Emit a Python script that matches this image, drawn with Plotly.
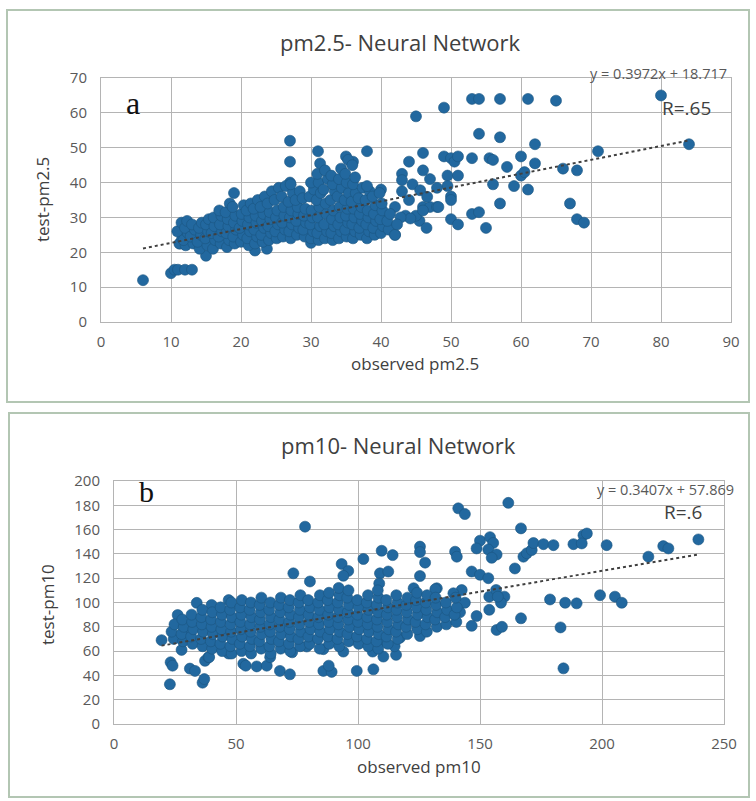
import plotly.graph_objects as go

W, H = 756, 801

# ---------------- data: panel a (pm2.5) ----------------
pm25_obs = [
    6, 10, 10.5, 11, 12, 13, 11.3, 15, 19, 27, 27, 27, 22, 23.7, 30, 31, 35, 36, 38, 40,
    42, 43, 44, 45, 46, 49, 53, 54, 57, 61, 65, 80, 84, 71, 62, 54, 57, 53, 55.5, 56,
    58, 60, 62, 60, 60.5, 59, 61, 66, 68, 67, 68, 69, 57, 56, 53, 54, 55, 50, 51, 49,
    50, 50.5, 51, 49.5, 51, 49.5, 50, 50, 46, 48, 44.5, 43, 46, 47, 48, 45.5, 46.5, 43.5, 45, 40,
    47, 45.6, 46.6, 46, 44.2, 42.8, 43, 41.5, 42, 44, 48.2,
    11.2, 11.6, 10.9, 11.5,
    12.1, 11.8, 12.4, 12.0, 12.3,
    13.2, 12.8, 13.4, 13.0,
    14.1, 13.8, 14.3, 14.0, 14.4,
    15.2, 14.9, 15.3, 15.0, 15.4,
    16.0, 16.3, 15.8, 16.2, 16.1,
    17.1, 16.8, 17.3, 17.0, 17.2, 16.9,
    18.0, 18.3, 17.9, 18.2, 18.1, 17.8, 18.4,
    19.1, 18.9, 19.3, 19.0, 19.2, 18.8,
    20.0, 20.3, 19.8, 20.2, 20.1, 20.4,
    21.1, 20.9, 21.3, 21.0, 21.2, 20.8, 21.4,
    22.0, 22.3, 21.9, 22.2, 22.1, 21.8, 22.4,
    23.1, 22.9, 23.3, 23.0, 23.2, 22.8, 23.4,
    24.0, 24.3, 23.9, 24.2, 24.1, 23.8, 24.4,
    25.1, 24.9, 25.3, 25.0, 25.2, 24.8, 25.4,
    26.0, 26.3, 25.9, 26.2, 26.1, 25.8, 26.4,
    27.1, 26.9, 27.3, 27.0, 27.2, 26.8, 27.4, 27.1,
    28.0, 28.3, 27.9, 28.2, 28.1, 27.8, 28.4,
    29.1, 28.9, 29.3, 29.0, 29.2, 28.8,
    30.0, 30.3, 29.9, 30.2, 30.1, 29.8, 30.4, 30.0,
    31.1, 30.9, 31.3, 31.0, 31.2, 30.8, 31.4, 31.1, 30.9, 31.3,
    32.0, 32.3, 31.9, 32.2, 32.1, 31.8, 32.4, 32.0,
    33.1, 32.9, 33.3, 33.0, 33.2, 32.8, 33.4, 33.1, 32.9,
    34.0, 34.3, 33.9, 34.2, 34.1, 33.8, 34.4, 34.0, 34.3,
    35.1, 34.9, 35.3, 35.0, 35.2, 34.8, 35.4, 35.1, 34.9, 35.3,
    36.0, 36.3, 35.9, 36.2, 36.1, 35.8, 36.4, 36.0, 36.3, 35.9,
    37.1, 36.9, 37.3, 37.0, 37.2, 36.8, 37.4,
    38.0, 38.3, 37.9, 38.2, 38.1, 37.8, 38.4, 38.0,
    39.1, 38.9, 39.3, 39.0, 39.2, 38.8,
    40.0, 40.3, 39.9, 40.2, 40.1, 39.8,
    41.1, 40.9, 41.3,
    42.0, 42.3,
]
pm25_test = [
    12, 14, 15, 15, 15, 15, 22.5, 19, 37, 52, 46, 40, 20.5, 21, 22.7, 49, 47.5, 46, 49, 38,
    25, 42.5, 46, 59, 48.5, 61.5, 64, 64, 64, 64, 63.5, 65, 51, 49, 51, 54, 53, 47, 47, 46.5,
    44.5, 47.5, 45.5, 42, 43, 39, 38, 44, 43.5, 34, 29.5, 28.5, 34, 39.5, 31, 31.5, 27, 29.5, 28, 47.5,
    47, 46, 47.5, 42, 42, 39, 36, 35, 43.5, 38.5, 39.5, 37.5, 33, 33, 33, 29, 27, 30.5, 30.5, 31.5,
    41, 37.8, 35.9, 32, 29.7, 30, 40.7, 27, 33, 35, 33,
    22.5, 24, 26, 28.5,
    22, 23.5, 25.5, 27, 29,
    22.5, 24.5, 26.5, 28,
    21, 23, 25, 27, 28.5,
    22, 24, 26, 28, 29.5,
    21, 23.5, 25.5, 27.5, 30,
    22.5, 24.5, 26, 28, 30.5, 32,
    21.5, 23.5, 25.5, 27.5, 29.5, 31.5, 34,
    22.5, 24.5, 26.5, 28.5, 30.5, 33,
    23, 25, 27, 29, 31, 33.5,
    22, 24, 26, 28, 30, 32, 34,
    22.5, 24.5, 26.5, 28.5, 30.5, 32.5, 35,
    23, 25, 27, 29, 31, 33, 36,
    23.5, 25.5, 27.5, 29.5, 31.5, 34, 37.5,
    24, 26, 28, 30, 32, 35, 38.5,
    24.5, 26.5, 28.5, 30.5, 33, 36, 39,
    24, 26, 28, 30, 32, 34.5, 37, 39.5,
    25, 27, 29, 31, 33, 35, 37.5,
    24.5, 26.5, 28.5, 30.5, 32.5, 35.5,
    24, 26, 28, 30, 32, 36, 38, 40,
    23.5, 25.5, 27.5, 30, 33, 35, 37, 40, 42.5, 45.5,
    24, 26, 28, 31, 34, 38, 41, 43.5,
    23.5, 25.5, 27.5, 29.5, 32, 35, 37.5, 39.5, 42,
    24, 26, 28, 30, 33, 36, 38.5, 41, 44,
    24.5, 26.5, 28.5, 30.5, 32.5, 35, 37, 40, 42.5, 46.5,
    24, 26, 28, 30, 32.5, 34.5, 37, 39.5, 41.5, 45,
    25, 27, 29, 31, 33, 35.5, 38.5,
    24, 26, 28, 30, 32, 35, 37.5, 39,
    25, 27, 29, 31, 33.5, 36,
    25.5, 27.5, 29.5, 32, 34, 37,
    26.5, 29, 31,
    25, 28,
]
pm25_fit_slope, pm25_fit_intercept = 0.3972, 18.717

# ---------------- data: panel b (pm10) ----------------
pm10_obs = [
    19.5, 23.2, 24, 22.9, 26.1, 27.7, 31.1, 33.2, 33.9, 36.3,
    37, 37.3, 38.7, 40, 47, 53, 54, 58.5, 62.6, 68,
    72.1, 78.3, 73.5, 80.3, 85.8, 89.2, 99.5, 106.3, 93.3, 96,
    94, 102.2, 109.7, 114.2, 109, 112.4, 108.7, 94, 106, 110.4,
    115.6, 115, 141.1, 143.8, 161.6, 166.8, 125.4, 125.4, 127.5, 125.4,
    139.8, 140.5, 150, 154.1, 155.4, 153.4, 156.8, 154.8, 148.6, 146.6,
    150, 153.4, 164.3, 167.8, 169.2, 171.2, 171.9, 176, 180.1, 188.3,
    192.4, 193.8, 191.7, 201.9, 219, 225.1, 227.2, 239.5, 178.7, 184.9,
    189.6, 199.2, 205.3, 208.1, 183, 184.2, 166.8, 160, 158.6, 153.8,
    156.6, 157.3, 156.8, 159, 153.8, 146.6, 148.6, 143.8, 141.8, 142.5,
    139.1, 132.3, 122.8, 125.4, 117.2, 131.7, 28.4, 79, 85.8, 73,
    96.7, 110.4, 88, 64, 47, 39,
    24.5, 23.6, 24.8,
    28.3, 27.7, 28.6, 28.0,
    32.2, 31.6, 32.5, 32.0, 31.8,
    36.3, 35.7, 36.5, 36.0, 35.8, 36.2,
    40.2, 39.7, 40.5, 40.0, 39.8, 40.3,
    44.3, 43.6, 44.5, 44.0, 43.8, 44.2, 43.7,
    48.2, 47.7, 48.5, 48.0, 47.8, 48.3, 47.6, 48.1,
    52.3, 51.6, 52.5, 52.0, 51.8, 52.2, 51.7, 52.4,
    56.2, 55.7, 56.5, 56.0, 55.8, 56.3, 55.6, 56.1,
    60.3, 59.6, 60.5, 60.0, 59.8, 60.2, 59.7, 60.4,
    64.2, 63.7, 64.5, 64.0, 63.8, 64.3, 63.6, 64.1,
    68.3, 67.6, 68.5, 68.0, 67.8, 68.2, 67.7, 68.4,
    72.2, 71.7, 72.5, 72.0, 71.8, 72.3, 71.6, 72.1,
    76.3, 75.6, 76.5, 76.0, 75.8, 76.2, 75.7, 76.4,
    80.2, 79.7, 80.5, 80.0, 79.8, 80.3, 79.6,
    84.3, 83.6, 84.5, 84.0, 83.8, 84.2, 83.7, 84.4,
    88.2, 87.7, 88.5, 88.0, 87.8, 88.3, 87.6, 88.1,
    92.3, 91.6, 92.5, 92.0, 91.8, 92.2, 91.7, 92.4, 92.1,
    96.2, 95.7, 96.5, 96.0, 95.8, 96.3, 95.6, 96.1,
    100.3, 99.6, 100.5, 100.0, 99.8, 100.2, 99.7,
    104.2, 103.7, 104.5, 104.0, 103.8, 104.3, 103.6, 104.1,
    108.3, 107.6, 108.5, 108.0, 107.8, 108.2, 107.7, 108.4, 108.1,
    112.2, 111.7, 112.5, 112.0, 111.8, 112.3, 111.6,
    116.3, 115.6, 116.5, 116.0, 115.8, 116.2, 115.7,
    120.2, 119.7, 120.5, 120.0, 119.8, 120.3,
    124.3, 123.6, 124.5, 124.0, 123.8, 124.2,
    128.2, 127.7, 128.5, 128.0, 127.8, 128.3,
    132.3, 131.6, 132.5, 132.0, 131.8,
    136.2, 135.7, 136.5, 136.0,
    140.3, 139.6, 140.5, 140.0,
]
pm10_test = [
    69, 50.8, 48, 32.7, 89.7, 61, 45.6, 43.7, 99.7, 34,
    37, 52, 55, 98, 102, 49.6, 48, 47.4, 48, 43.7,
    40.9, 162.4, 124, 117.3, 43.7, 42.9, 43.7, 45, 131.7, 126,
    122, 135.8, 142.6, 139, 124, 125.5, 115.7, 59.6, 59.6, 55.5,
    56.9, 64, 177.5, 172.8, 182, 161, 146, 141.5, 132.8, 121.8,
    141.8, 137.7, 150.9, 153.8, 149, 143.6, 139.5, 136.8, 144.5, 125.5,
    122.8, 120, 128, 137.7, 140.5, 143.2, 149, 148, 147.2, 148,
    155.4, 156.8, 148.6, 147.2, 137.7, 146.4, 144.5, 151.9, 102.5, 99.8,
    99.3, 106, 104.8, 99.8, 79.5, 45.8, 87, 104.8, 99.8, 104.8,
    110.3, 104.8, 77.4, 80, 94, 80.8, 88.9, 99.8, 92, 110.3,
    107.6, 111.7, 111.7, 72.4, 71, 111, 76, 63.8, 61.6, 59,
    69, 69, 48, 55, 58, 55,
    70, 76, 82,
    68, 74, 80, 86,
    66, 72, 78, 84, 90,
    64, 70, 76, 82, 88, 94,
    62, 68, 74, 80, 86, 92,
    60, 66, 72, 78, 84, 90, 96,
    58, 64, 70, 76, 82, 88, 94, 100,
    60, 66, 72, 78, 84, 90, 96, 102,
    58, 64, 70, 76, 82, 88, 94, 100,
    62, 68, 74, 80, 86, 92, 98, 104,
    58, 64, 70, 76, 82, 88, 94, 100,
    62, 68, 74, 80, 86, 92, 98, 104,
    60, 66, 72, 78, 84, 90, 96, 102,
    64, 70, 76, 82, 88, 94, 100, 106,
    66, 72, 78, 84, 90, 96, 102,
    62, 70, 76, 82, 88, 94, 100, 106,
    66, 72, 78, 84, 90, 96, 102, 108,
    64, 70, 76, 82, 88, 94, 100, 106, 112,
    68, 74, 80, 86, 92, 98, 104, 110,
    66, 72, 78, 84, 90, 96, 102,
    64, 70, 76, 82, 88, 94, 100, 106,
    62, 68, 74, 80, 86, 92, 98, 104, 110,
    66, 72, 78, 84, 90, 96, 102,
    70, 76, 82, 88, 94, 100, 106,
    74, 80, 86, 92, 98, 104,
    78, 84, 90, 96, 102, 108,
    76, 82, 88, 94, 100, 106,
    80, 86, 92, 98, 104,
    82, 88, 94, 100,
    84, 90, 96, 104,
]
pm10_fit_slope, pm10_fit_intercept = 0.3407, 57.869

# ---------------- styling ----------------
MARKER = "#22689f"
GRID = "#b4b4b4"
TICKFONT = dict(family="Open Sans", size=15, color="#595959")
TXT = "#404040"


def px_x(x):
    return x / W


def px_y(y):
    return 1 - y / H


fig = go.Figure()

for obs, test, xa, ya in [(pm25_obs, pm25_test, "x", "y"), (pm10_obs, pm10_test, "x2", "y2")]:
    fig.add_trace(go.Scatter(
        x=obs, y=test, mode="markers", xaxis=xa, yaxis=ya, showlegend=False,
        marker=dict(size=11, color=MARKER, line=dict(width=0.6, color="#1b5582")),
        hoverinfo="x+y"))

for obs, slope, icpt, xa, ya in [(pm25_obs, pm25_fit_slope, pm25_fit_intercept, "x", "y"),
                                 (pm10_obs, pm10_fit_slope, pm10_fit_intercept, "x2", "y2")]:
    xs = [min(obs), max(obs)]
    fig.add_trace(go.Scatter(
        x=xs, y=[slope * v + icpt for v in xs], mode="lines", xaxis=xa, yaxis=ya,
        showlegend=False, line=dict(color="#404040", width=2, dash="dot"), hoverinfo="skip"))

axis_common = dict(showgrid=True, gridcolor=GRID, gridwidth=1, showline=True, linecolor=GRID,
                   linewidth=1, mirror=True, zeroline=False, tickfont=TICKFONT,
                   ticks="outside", tickcolor="rgba(0,0,0,0)", automargin=False, fixedrange=True)

fig.update_layout(
    width=W, height=H, autosize=False,
    margin=dict(l=0, r=0, t=0, b=0, pad=0, autoexpand=False),
    paper_bgcolor="white", plot_bgcolor="white",
    xaxis=dict(domain=[px_x(101), px_x(731)], range=[0, 90], dtick=10, anchor="y", ticklen=6, **axis_common),
    yaxis=dict(domain=[px_y(322), px_y(78)], range=[0, 70], dtick=10, anchor="x", ticklen=10, **axis_common),
    xaxis2=dict(domain=[px_x(114), px_x(724)], range=[0, 250], dtick=50, anchor="y2", ticklen=6, **axis_common),
    yaxis2=dict(domain=[px_y(724), px_y(481)], range=[0, 200], dtick=20, anchor="x2", ticklen=10, **axis_common),
)

shapes = []
for (x0, y0, x1, y1) in [(7, 10, 749, 402), (9, 413, 749, 797)]:
    shapes.append(dict(type="rect", xref="paper", yref="paper",
                       x0=px_x(x0), x1=px_x(x1), y0=px_y(y1), y1=px_y(y0),
                       line=dict(color="#b3c6b3", width=2), fillcolor="rgba(0,0,0,0)", layer="below"))
fig.update_layout(shapes=shapes)


def ann(text, x, y, size, color=TXT, family="Open Sans", xanchor="center", yanchor="middle", angle=0):
    fig.add_annotation(text=text, xref="paper", yref="paper", x=px_x(x), y=px_y(y),
                       xanchor=xanchor, yanchor=yanchor, showarrow=False, textangle=angle,
                       font=dict(family=family, size=size, color=color))


# titles
ann("pm2.5- Neural Network", 400, 42, 22)
ann("pm10- Neural Network", 398, 445, 22)
# axis titles
ann("observed pm2.5", 415, 363, 17)
ann("test-pm2.5", 43, 200, 17, angle=-90)
ann("observed pm10", 419, 766, 17)
ann("test-pm10", 47, 605, 17, angle=-90)
# equations and R
ann("y = 0.3972x + 18.717", 729, 73, 14.5, color="#595959", xanchor="right")
ann("R=.65", 686, 108, 19)
ann("y = 0.3407x + 57.869", 736, 489, 14.5, color="#595959", xanchor="right")
ann("R=.6", 683, 512, 19)
# panel letters
ann("a", 133, 103, 32, color="#111111", family="Liberation Serif")
ann("b", 146, 492, 30, color="#111111", family="Liberation Serif")

fig.write_html("out.html", config={"displayModeBar": False, "staticPlot": True},
               post_script="document.body.style.margin='0';document.body.style.overflow='hidden';")
